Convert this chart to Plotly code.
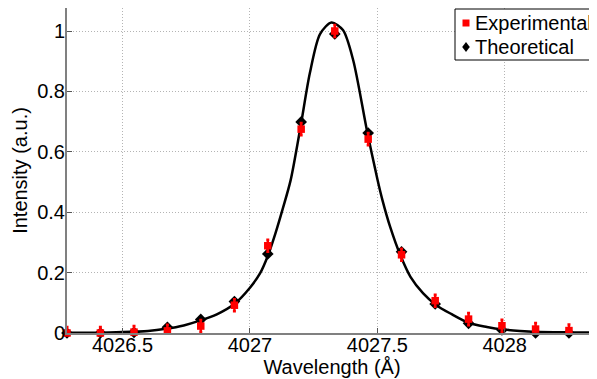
import plotly.graph_objects as go

# Sample wavelengths (Å)
wavelengths = [4026.282, 4026.413, 4026.545, 4026.676, 4026.807, 4026.939, 4027.070, 4027.201,
               4027.333, 4027.464, 4027.595, 4027.727, 4027.858, 4027.989, 4028.121, 4028.252]
experimental = [0.0, 0.0, 0.003, 0.007, 0.023, 0.092, 0.289, 0.675,
                1.0, 0.642, 0.259, 0.107, 0.046, 0.024, 0.013, 0.008]
experimental_err = [0.02, 0.02, 0.02, 0.02, 0.02, 0.02, 0.02, 0.02,
                    0.02, 0.02, 0.02, 0.02, 0.02, 0.02, 0.02, 0.02]
theoretical = [0.0, 0.0, 0.002, 0.019, 0.045, 0.104, 0.262, 0.699,
               0.99, 0.662, 0.269, 0.096, 0.032, 0.010, 0.0, 0.0]

# Continuous theoretical profile
curve_x = [4026.28, 4026.40, 4026.50, 4026.60, 4026.67, 4026.74, 4026.80, 4026.87, 4026.94,
           4027.00, 4027.04, 4027.07, 4027.10, 4027.13, 4027.16, 4027.20, 4027.235, 4027.275,
           4027.32, 4027.365, 4027.405, 4027.46, 4027.50, 4027.52, 4027.55, 4027.59, 4027.63,
           4027.68, 4027.73, 4027.79, 4027.86, 4027.93, 4027.99, 4028.06, 4028.12, 4028.25, 4028.36]
curve_y = [0.0005, 0.001, 0.003, 0.007, 0.014, 0.025, 0.040, 0.062, 0.097,
           0.150, 0.198, 0.255, 0.330, 0.415, 0.507, 0.690, 0.860, 0.990,
           1.028, 1.003, 0.904, 0.667, 0.510, 0.440, 0.352, 0.258, 0.186,
           0.131, 0.093, 0.063, 0.033, 0.020, 0.012, 0.007, 0.004, 0.002, 0.001]

x_tickvals = [4026.5, 4027, 4027.5, 4028]
x_ticktext = ["4026.5", "4027", "4027.5", "4028"]
y_tickvals = [0, 0.2, 0.4, 0.6, 0.8, 1]
y_ticktext = ["0", "0.2", "0.4", "0.6", "0.8", "1"]
legend_labels = ["Experimental", "Theoretical"]

FONT = "Liberation Sans, Arial, Helvetica, sans-serif"

# page has an 8px body margin; figure placed so plot area lands at 67..597 x 6..333
W, H = 589, 371
ML, MR, MT, MB = 59, 0, 0, 46
PW, PH = W - ML - MR, H - MT - MB


def px(xv):  # figure pixel -> paper x
    return (xv - ML) / PW


def py(yv):  # figure pixel -> paper y
    return (H - MB - yv) / PH


fig = go.Figure()
fig.add_trace(go.Scatter(x=curve_x, y=curve_y, mode="lines",
                         line=dict(color="black", width=2.5, shape="spline", smoothing=0.8),
                         showlegend=False, hoverinfo="skip", cliponaxis=False))
fig.add_trace(go.Scatter(x=wavelengths, y=theoretical, mode="markers", name=legend_labels[1],
                         marker=dict(symbol="diamond", size=9, color="black"),
                         showlegend=False, cliponaxis=False))
fig.add_trace(go.Scatter(x=wavelengths, y=experimental, mode="markers", name=legend_labels[0],
                         marker=dict(symbol="square", size=7.5, color="#ff0000"),
                         error_y=dict(type="data", array=experimental_err, color="#ff0000", thickness=2.5, width=1.5),
                         showlegend=False, cliponaxis=False))

# Legend box (figure pixel coords, offset by the 8px page margin)
bx0, by0, bx1, by1 = 447, 1, 600, 52
fig.add_shape(type="rect", xref="paper", yref="paper",
              x0=px(bx0), x1=px(bx1), y0=py(by1), y1=py(by0),
              line=dict(color="black", width=1), fillcolor="white", layer="above")
# legend symbols
sx, sy1, sy2 = 458, 15, 39
fig.add_shape(type="rect", xref="paper", yref="paper",
              x0=px(sx - 3.5), x1=px(sx + 3.5), y0=py(sy1 + 3.5), y1=py(sy1 - 3.5),
              line=dict(width=0), fillcolor="#ff0000", layer="above")
fig.add_shape(type="path", xref="paper", yref="paper",
              path=f"M {px(sx)} {py(sy2 - 5)} L {px(sx + 3.8)} {py(sy2)} L {px(sx)} {py(sy2 + 5)} L {px(sx - 3.8)} {py(sy2)} Z",
              line=dict(width=0), fillcolor="black", layer="above")
for lab, yy in zip(legend_labels, [sy1, sy2]):
    fig.add_annotation(text=lab, xref="paper", yref="paper", x=px(465), y=py(yy),
                       xanchor="left", yanchor="middle", showarrow=False,
                       font=dict(family=FONT, size=20, color="black"))

fig.update_layout(
    width=W, height=H,
    margin=dict(l=ML, r=MR, t=MT, b=MB, autoexpand=False),
    paper_bgcolor="white", plot_bgcolor="white",
    font=dict(family=FONT, size=20, color="black"),
    showlegend=False,
    xaxis=dict(range=[4026.282, 4026.282 + PW / 254.8], tickvals=x_tickvals, ticktext=x_ticktext,
               showgrid=True, gridcolor="#b4b4b4", griddash="1px,2px", gridwidth=1,
               showline=True, linecolor="#808080", linewidth=2,
               ticks="inside", ticklen=5, tickcolor="#555555", tickwidth=1,
               ticklabelstandoff=-7, zeroline=False,
               title=dict(text="Wavelength (Å)", standoff=0, font=dict(size=20))),
    yaxis=dict(range=[0, PH / 302.0], tickvals=y_tickvals, ticktext=y_ticktext,
               showgrid=True, gridcolor="#b4b4b4", griddash="1px,2px", gridwidth=1,
               showline=True, linecolor="#808080", linewidth=2,
               ticks="inside", ticklen=5, tickcolor="#555555", tickwidth=1,
               ticklabelstandoff=-4, zeroline=False,
               title=dict(text="Intensity (a.u.)", standoff=4, font=dict(size=20))),
)

fig.write_html("out.html")
